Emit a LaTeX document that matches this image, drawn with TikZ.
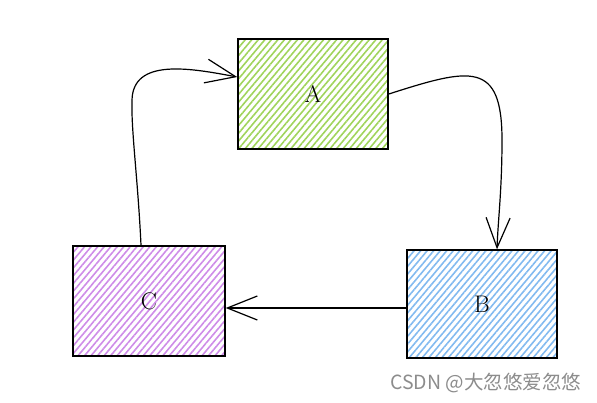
\documentclass[tikz,border=0pt]{standalone}
\usepackage{fontspec}
\newfontfamily\cjk{Noto Sans CJK SC}
\usetikzlibrary{patterns.meta,arrows.meta}
\definecolor{hatchA}{RGB}{160,212,92}
\definecolor{hatchB}{RGB}{130,186,240}
\definecolor{hatchC}{RGB}{206,140,232}
\tikzset{
  box/.style={draw, line width=1.4pt, minimum width=150pt, minimum height=110pt,
    font=\fontsize{24}{28}\selectfont},
  hatch/.style={pattern={Lines[angle=50,distance=5pt,line width=1.6pt]}, pattern color=#1},
  flow/.style={line width=1.2pt, -{Straight Barb[length=30pt,width=24pt,line width=1.2pt]}}
}
\begin{document}
\begin{tikzpicture}[x=1pt,y=-1pt]
        \useasboundingbox (0,0) rectangle (597,402);
        % Boxes
        \node[box, hatch=hatchA] (A) at (313,94) {A};
        \node[box, hatch=hatchB, minimum height=108pt] (B) at (482,304) {B};
        \node[box, hatch=hatchC, minimum width=152pt] (C) at (149,301) {C};
        % Arrows
        \draw[flow] (A.east)
        .. controls (470,68) and (502,60) .. (502,140)
        .. controls (502,190) and (498,220) .. ([xshift=15pt]B.north);
        \draw[flow] ([yshift=-4pt]B.west) -- ([yshift=-7pt]C.east);
        \draw[flow] ([xshift=-8pt]C.north)
        .. controls (138,180) and (131,130) .. (132,100)
        .. controls (133,58) and (190,68) .. ([yshift=17pt]A.west);
        % Watermark
        \node[anchor=west, text=black!45, font=\cjk\fontsize{19.5}{22}\selectfont, inner sep=0pt] (mark) at (390,383) {CSDN @大忽悠爱忽悠};
    \end{tikzpicture}
\end{document}
